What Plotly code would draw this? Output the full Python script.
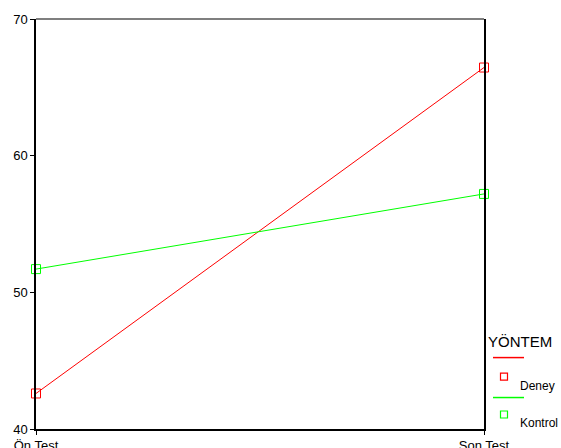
import plotly.graph_objects as go

categories = ["Ön Test", "Son Test"]
deney = [42.6, 66.45]
kontrol = [51.7, 57.2]
series_names = ["Deney", "Kontrol"]
series_colors = ["#ff0000", "#00ff00"]
legend_title = "YÖNTEM"
y_ticks = [40, 50, 60, 70]

fig = go.Figure()
for name, vals, col in zip(series_names, [deney, kontrol], series_colors):
    fig.add_trace(go.Scatter(
        x=categories, y=vals, name=name, mode="lines+markers",
        line=dict(color=col, width=1),
        marker=dict(symbol="square-open", size=9, color=col, line=dict(width=1, color=col)),
        showlegend=False, cliponaxis=False,
    ))

font = dict(family="Liberation Sans, Arial, sans-serif", size=13, color="#000")

fig.update_layout(
    width=561, height=448,
    margin=dict(l=36, r=77, t=19, b=19, autoexpand=False),
    paper_bgcolor="white", plot_bgcolor="white",
    font=font,
    xaxis=dict(type="category", range=[0, 1], showgrid=False, zeroline=False,
               showline=True, linecolor="#000", linewidth=1.5, mirror=False,
               ticks="outside", ticklen=4, tickcolor="#000", automargin=False,
               tickfont=dict(size=13), ticklabelstandoff=0),
    yaxis=dict(range=[40, 70], tickvals=y_ticks, showgrid=False, zeroline=False,
               showline=True, linecolor="#000", linewidth=1.5, mirror=True,
               ticks="outside", ticklen=4, tickcolor="#000", automargin=False,
               tickfont=dict(size=13)),
)

# top border (gray)
fig.add_shape(type="line", xref="paper", yref="paper", x0=0, x1=1, y0=1, y1=1,
              line=dict(color="#555", width=1.5))

# custom legend
def px_x(p):
    return (p - 36) / 448.0
def px_y(p):
    return (429.5 - p) / 410.5

fig.add_annotation(xref="paper", yref="paper", x=px_x(486), y=px_y(342),
                   text=legend_title, showarrow=False, xanchor="left", yanchor="middle",
                   font=dict(size=15))
legend_rows = [(358, 377, 386), (398, 415, 423)]
for (ly, my, ty), name, col in zip(legend_rows, series_names, series_colors):
    fig.add_shape(type="line", xref="paper", yref="paper",
                  x0=px_x(493), x1=px_x(524), y0=px_y(ly), y1=px_y(ly),
                  line=dict(color=col, width=1.5))
    fig.add_shape(type="rect", xref="paper", yref="paper",
                  x0=px_x(500.5), x1=px_x(507.5), y0=px_y(my + 3.5), y1=px_y(my - 3.5),
                  line=dict(color=col, width=1.2))
    fig.add_annotation(xref="paper", yref="paper", x=px_x(518), y=px_y(ty),
                       text=name, showarrow=False, xanchor="left", yanchor="middle",
                       font=dict(size=12))

fig.write_html("out.html", config={"displayModeBar": False},
               post_script="document.body.style.margin='0';document.body.style.overflow='hidden';")
